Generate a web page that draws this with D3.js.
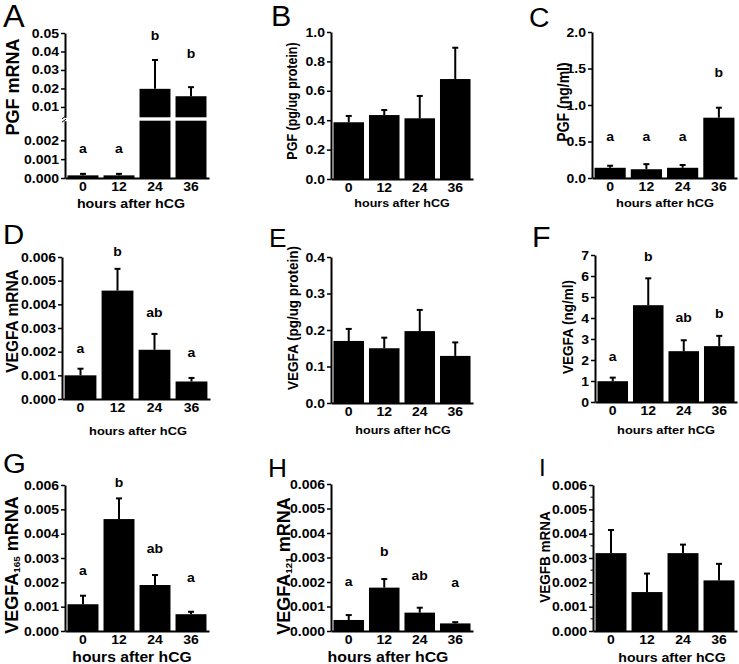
<!DOCTYPE html>
<html>
<head>
<meta charset="utf-8">
<script src="https://cdn.jsdelivr.net/npm/d3@7"></script>
<style>
  body { margin: 0; background: #fff; }
  text { font-family: Arial, "Liberation Sans", sans-serif; }
</style>
</head>
<body>
<div id="chart"></div>
<script>
var width = 739, height = 664;
// the figure text is a bit wider than plain Arial
var stretch = 1.12;

var hours = ["0", "12", "24", "36"];

// A: PGF mRNA
var pgfMrnaMean = [0.00014, 0.00014, 0.0198, 0.0158];
var pgfMrnaSem = [0.00008, 0.00008, 0.0156, 0.0049];
var pgfMrnaLetters = ["a", "a", "b", "b"];

// B: PGF protein (pg/ug protein)
var pgfProteinMean = [0.386, 0.435, 0.413, 0.680];
var pgfProteinSem = [0.043, 0.034, 0.152, 0.213];

// C: PGF (ng/ml)
var pgfSerumMean = [0.14, 0.12, 0.14, 0.826];
var pgfSerumSem = [0.028, 0.07, 0.038, 0.137];
var pgfSerumLetters = ["a", "a", "a", "b"];

// D: VEGFA mRNA
var vegfaMrnaMean = [0.00100, 0.00458, 0.00208, 0.00074];
var vegfaMrnaSem = [0.00028, 0.00092, 0.00067, 0.00015];
var vegfaMrnaLetters = ["a", "b", "ab", "a"];

// E: VEGFA protein (pg/ug protein)
var vegfaProteinMean = [0.170, 0.150, 0.197, 0.129];
var vegfaProteinSem = [0.033, 0.029, 0.058, 0.037];

// F: VEGFA (ng/ml)
var vegfaSerumMean = [0.99, 4.61, 2.42, 2.66];
var vegfaSerumSem = [0.17, 1.28, 0.52, 0.49];
var vegfaSerumLetters = ["a", "b", "ab", "b"];

// G: VEGFA165 mRNA
var vegfa165Mean = [0.0011, 0.0046, 0.00189, 0.00069];
var vegfa165Sem = [0.00035, 0.00085, 0.00041, 0.0001];
var vegfa165Letters = ["a", "b", "ab", "a"];

// H: VEGFA121 mRNA
var vegfa121Mean = [0.00045, 0.00177, 0.00075, 0.00031];
var vegfa121Sem = [0.0002, 0.00035, 0.0002, 0.00005];
var vegfa121Letters = ["a", "b", "ab", "a"];

// I: VEGFB mRNA
var vegfbMean = [0.0032, 0.0016, 0.0032, 0.00208];
var vegfbSem = [0.00095, 0.00076, 0.00035, 0.00068];

var fmt3 = d3.format(".3f"), fmt1 = d3.format(".1f");
var mrnaTicks = d3.range(0, 0.0061, 0.001);

var panels = [
  {label: "A", lx: 3, ly: 27, ls: 31, mean: pgfMrnaMean, sem: pgfMrnaSem, letters: pgfMrnaLetters,
   letterAt: [0.00135, 0.00135, 0.0462, 0.0365],
   x0: 65, x1: 209, yTop: 33, yBot: 178, max: 0.05,
   split: {lowMax: 0.00304, highMin: 0.0044, lowTop: 120.7, highBot: 117.3,
           lowTicks: [0, 0.001, 0.002], lowFmt: fmt3},
   ticks: [0.01, 0.02, 0.03, 0.04, 0.05], fmt: d3.format(".2f"),
   title: [{t: "PGF mRNA"}], tx: 12.5, ty: 87, ts: 18, tst: 1.0, xtX: 131, xtY: 208, xts: 12.7},
  {label: "B", lx: 271, ly: 26, ls: 29, mean: pgfProteinMean, sem: pgfProteinSem,
   x0: 331, x1: 473, yTop: 32, yBot: 179, max: 1.0,
   ticks: [0, 0.2, 0.4, 0.6, 0.8, 1.0], fmt: fmt1,
   title: [{t: "PGF (pg/ug protein)"}], tx: 292, ty: 101, ts: 12.5, tst: 1.15, xtX: 402, xtY: 207, xts: 11.2},
  {label: "C", lx: 529, ly: 27, ls: 27, mean: pgfSerumMean, sem: pgfSerumSem, letters: pgfSerumLetters,
   letterAt: [0.51, 0.51, 0.51, 1.38],
   x0: 592, x1: 737, yTop: 32, yBot: 178, max: 2.0,
   ticks: [0, 0.5, 1.0, 1.5, 2.0], fmt: fmt1,
   title: [{t: "PGF (ng/ml)"}], tx: 563, ty: 102, ts: 14, tst: 1.15, xtX: 665, xtY: 207, xts: 11.5},
  {label: "D", lx: 3, ly: 244, ls: 28, mean: vegfaMrnaMean, sem: vegfaMrnaSem, letters: vegfaMrnaLetters,
   letterAt: [0.00196, 0.00605, 0.00348, 0.00179],
   x0: 62, x1: 210, yTop: 257, yBot: 399, max: 0.006,
   ticks: mrnaTicks, fmt: fmt3,
   title: [{t: "VEGFA mRNA"}], tx: 12, ty: 321, ts: 15.5, tst: 1.05, xtX: 138, xtY: 435, xts: 11.5},
  {label: "E", lx: 269, ly: 247, ls: 25, mean: vegfaProteinMean, sem: vegfaProteinSem,
   x0: 331, x1: 473, yTop: 257, yBot: 403, max: 0.4,
   ticks: [0, 0.1, 0.2, 0.3, 0.4], fmt: fmt1,
   title: [{t: "VEGFA (pg/ug protein)"}], tx: 292, ty: 318, ts: 13.5, tst: 1.15, xtX: 403, xtY: 434, xts: 11.2},
  {label: "F", lx: 532, ly: 247, ls: 29, mean: vegfaSerumMean, sem: vegfaSerumSem, letters: vegfaSerumLetters,
   letterAt: [1.94, 6.71, 3.80, 3.99],
   x0: 595, x1: 737, yTop: 255, yBot: 402, max: 7,
   ticks: d3.range(0, 8), fmt: d3.format("d"),
   title: [{t: "VEGFA (ng/ml)"}], tx: 567, ty: 327, ts: 13.5, tst: 1.15, xtX: 666, xtY: 434, xts: 11.5},
  {label: "G", lx: 3, ly: 473, ls: 28, mean: vegfa165Mean, sem: vegfa165Sem, letters: vegfa165Letters,
   letterAt: [0.0023, 0.00592, 0.00321, 0.00201],
   x0: 65, x1: 209, yTop: 485, yBot: 631, max: 0.006,
   ticks: mrnaTicks, fmt: fmt3,
   title: [{t: "VEGFA"}, {t: "165", sub: true}, {t: " mRNA"}], tx: 12, ty: 565, ts: 18, tst: 1.0, xtX: 132, xtY: 662, xts: 14},
  {label: "H", lx: 268, ly: 477, ls: 25, mean: vegfa121Mean, sem: vegfa121Sem, letters: vegfa121Letters,
   letterAt: [0.00184, 0.00306, 0.00208, 0.0018],
   x0: 331, x1: 473, yTop: 484, yBot: 631, max: 0.006,
   ticks: mrnaTicks, fmt: fmt3,
   title: [{t: "VEGFA"}, {t: "121", sub: true}, {t: " mRNA"}], tx: 284, ty: 566, ts: 18, tst: 1.0, xtX: 388, xtY: 662, xts: 14.2},
  {label: "I", lx: 539, ly: 476, ls: 23, mean: vegfbMean, sem: vegfbSem,
   x0: 593, x1: 737, yTop: 485, yBot: 631, max: 0.006,
   ticks: mrnaTicks, fmt: fmt3, minor: d3.range(0.0005, 0.006, 0.001),
   title: [{t: "VEGFB mRNA"}], tx: 544, ty: 557, ts: 13.5, tst: 1.15, xtX: 672, xtY: 662, xts: 12.6}
];

var svg = d3.select("#chart")
  .append("svg")
  .attr("width", width)
  .attr("height", height);

function styleAxis(a) {
  a.attr("font-family", null).attr("font-size", null);
  a.select(".domain").attr("stroke-width", 2);
  a.selectAll(".tick line").attr("stroke-width", 1.5);
  a.selectAll(".tick text")
    .attr("font-size", 12.5)
    .attr("font-weight", "bold")
    .attr("fill", "#000")
    .attr("transform", "scale(" + stretch + ",1)")
    .attr("x", function() { var v = +d3.select(this).attr("x"); return v / stretch; });
}

// horizontal text with a little horizontal stretch
function wideText(g, x, y, s) {
  return g.append("text")
    .attr("transform", "translate(" + x + "," + y + ") scale(" + s + ",1)");
}

function drawPanel(p) {
  var g = svg.append("g");

  var x = d3.scaleBand()
    .domain(hours)
    .range([p.x0, p.x1])
    .paddingInner(0.14)
    .paddingOuter(0.07);

  var y, yLow, yHigh;
  if (p.split) {
    yLow = d3.scaleLinear().domain([0, p.split.lowMax]).range([p.yBot, p.split.lowTop]);
    yHigh = d3.scaleLinear().domain([p.split.highMin, p.max]).range([p.split.highBot, p.yTop]);
    y = function(v) { return v <= p.split.lowMax ? yLow(v) : yHigh(v); };
  } else {
    y = d3.scaleLinear().domain([0, p.max]).range([p.yBot, p.yTop]);
  }

  // bars
  hours.forEach(function(h, i) {
    var v = p.mean[i];
    if (p.split) {
      var lv = Math.min(v, p.split.lowMax);
      g.append("rect")
        .attr("x", x(h)).attr("width", x.bandwidth())
        .attr("y", yLow(lv)).attr("height", yLow(0) - yLow(lv))
        .attr("fill", "#000");
      if (v > p.split.highMin) {
        g.append("rect")
          .attr("x", x(h)).attr("width", x.bandwidth())
          .attr("y", yHigh(v)).attr("height", yHigh(p.split.highMin) - yHigh(v))
          .attr("fill", "#000");
      }
    } else {
      g.append("rect")
        .attr("x", x(h)).attr("width", x.bandwidth())
        .attr("y", y(v)).attr("height", y(0) - y(v))
        .attr("fill", "#000");
    }

    // upper error bar
    var cx = x(h) + x.bandwidth() / 2;
    var top = y(v + p.sem[i]);
    g.append("line")
      .attr("x1", cx).attr("x2", cx)
      .attr("y1", y(v)).attr("y2", top)
      .attr("stroke", "#000").attr("stroke-width", 2);
    g.append("line")
      .attr("x1", cx - 3).attr("x2", cx + 3)
      .attr("y1", top).attr("y2", top)
      .attr("stroke", "#000").attr("stroke-width", 2);

    // significance letters
    if (p.letters) {
      wideText(g, cx, y(p.letterAt[i]), stretch)
        .attr("text-anchor", "middle")
        .attr("font-size", 12.5)
        .attr("font-weight", "bold")
        .text(p.letters[i]);
    }
  });

  // y axis
  if (p.split) {
    g.append("g")
      .attr("transform", "translate(" + p.x0 + ",0)")
      .call(d3.axisLeft(yLow).tickValues(p.split.lowTicks).tickFormat(p.split.lowFmt)
        .tickSize(4).tickPadding(2).tickSizeOuter(0))
      .call(styleAxis);
    g.append("g")
      .attr("transform", "translate(" + p.x0 + ",0)")
      .call(d3.axisLeft(yHigh).tickValues(p.ticks).tickFormat(p.fmt)
        .tickSize(4).tickPadding(2).tickSizeOuter(0))
      .call(styleAxis);
    // break mark on the axis
    [p.split.highBot, p.split.lowTop].forEach(function(yy) {
      g.append("line")
        .attr("x1", p.x0 - 3).attr("x2", p.x0 + 1)
        .attr("y1", yy + 1.5).attr("y2", yy - 1.5)
        .attr("stroke", "#000").attr("stroke-width", 1);
    });
  } else {
    g.append("g")
      .attr("transform", "translate(" + p.x0 + ",0)")
      .call(d3.axisLeft(y).tickValues(p.ticks).tickFormat(p.fmt)
        .tickSize(4).tickPadding(2).tickSizeOuter(0))
      .call(styleAxis);
    if (p.minor) {
      g.selectAll(".minor")
        .data(p.minor)
        .enter().append("line")
        .attr("x1", p.x0 - 2.5).attr("x2", p.x0)
        .attr("y1", function(d) { return y(d); })
        .attr("y2", function(d) { return y(d); })
        .attr("stroke", "#000").attr("stroke-width", 1);
    }
  }

  // x axis
  g.append("g")
    .attr("transform", "translate(0," + p.yBot + ")")
    .call(d3.axisBottom(x).tickSize(0).tickPadding(4).tickSizeOuter(0))
    .call(styleAxis);

  // x title
  wideText(g, p.xtX, p.xtY, stretch)
    .attr("text-anchor", "middle")
    .attr("font-size", p.xts)
    .attr("font-weight", "bold")
    .text("hours after hCG");

  // y title
  var t = g.append("text")
    .attr("transform", "translate(" + p.tx + "," + p.ty + ") scale(" + p.tst + ",1) rotate(-90)")
    .attr("text-anchor", "middle")
    .attr("dy", "0.36em")
    .attr("font-size", p.ts)
    .attr("font-weight", "bold");
  p.title.forEach(function(part) {
    var s = t.append("tspan").text(part.t);
    if (part.sub) {
      s.attr("font-size", p.ts * 0.55).attr("dy", 2);
    } else if (part.t.charAt(0) == " ") {
      s.attr("dy", -2);
    }
  });

  // panel letter
  wideText(g, p.lx, p.ly, 1.05)
    .attr("font-size", p.ls)
    .text(p.label);
}

panels.forEach(drawPanel);
</script>
</body>
</html>
